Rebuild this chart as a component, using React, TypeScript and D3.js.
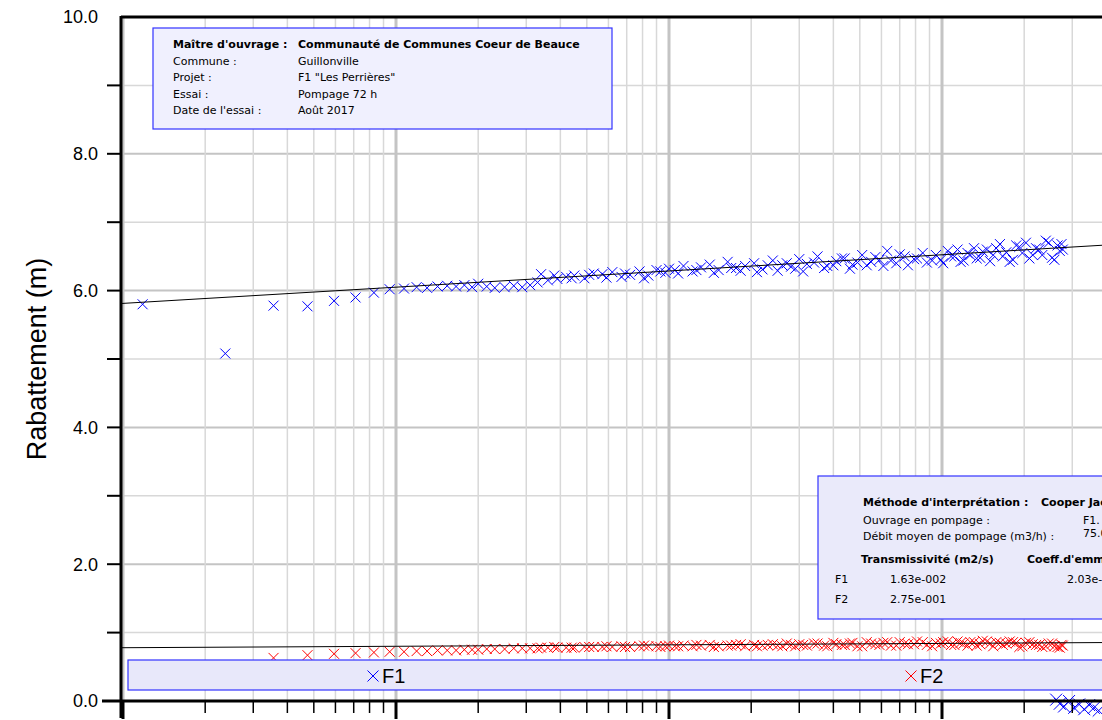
import React from "react";
import * as d3 from "d3";

// time (arbitrary log units, decade grid) shared by both wells
const times = [
  0.118, 0.237, 0.356, 0.474, 0.593, 0.711, 0.83, 0.948,
  1.07, 1.19, 1.3, 1.42, 1.54, 1.66, 1.78, 1.9, 2.0,
  2.15, 2.3, 2.5, 2.7, 2.9, 3.1, 3.3, 3.6,
  3.9, 4.2, 4.5, 4.9, 5.3, 5.7, 6.2, 6.7, 7.2, 7.8, 8.4, 9.0, 9.7, 10.0,
  10.5, 11.3, 12.2, 13.1, 14.1, 15.2, 16.4, 17.6, 19, 20.5, 22, 24, 26, 28, 30,
  32, 35, 38, 41, 44, 47, 51, 55, 59, 63, 68, 73, 79, 85, 92,
  99, 105, 111, 117, 124, 131, 138, 146, 154, 163, 172, 182, 192, 203, 215,
  227, 240, 253, 265, 277,
];

const f1Drawdown = [
  5.8, 5.08, 5.78, 5.77, 5.85, 5.9, 5.97, 6.02,
  6.03, 6.05, 6.04, 6.06, 6.07, 6.06, 6.08, 6.05, 6.1,
  6.06, 6.04, 6.05, 6.07, 6.05, 6.08, 6.12, 6.15,
  6.17, 6.2, 6.22, 6.18, 6.25, 6.24, 6.27, 6.2, 6.23, 6.28, 6.22, 6.3, 6.26, 6.32,
  6.3, 6.36, 6.28, 6.34, 6.38, 6.3, 6.42, 6.33, 6.36, 6.4, 6.31, 6.44, 6.37, 6.35, 6.46,
  6.39, 6.5, 6.36, 6.43, 6.47, 6.38, 6.52, 6.42, 6.45, 6.58, 6.4, 6.5, 6.46, 6.55, 6.44,
  6.45, 6.58, 6.5, 6.42, 6.55, 6.62, 6.48, 6.6, 6.52, 6.68, 6.56, 6.45, 6.64, 6.7, 6.52,
  6.6, 6.73, 6.48, 6.66, 6.6,
];

const f2Drawdown: (number | null)[] = [
  null, null, 0.63, 0.67, 0.69, 0.7, 0.71, 0.72,
  0.72, 0.73, 0.73, 0.74, 0.74, 0.74, 0.75, 0.75, 0.75,
  0.76, 0.76, 0.76, 0.77, 0.77, 0.77, 0.77, 0.78,
  0.78, 0.78, 0.78, 0.79, 0.79, 0.79, 0.79, 0.8, 0.79, 0.8, 0.8, 0.8, 0.8, 0.81,
  0.8, 0.81, 0.8, 0.81, 0.82, 0.8, 0.81, 0.82, 0.8, 0.82, 0.81, 0.83, 0.8, 0.82, 0.83,
  0.81, 0.84, 0.8, 0.83, 0.82, 0.85, 0.8, 0.84, 0.82, 0.86, 0.81, 0.84, 0.83, 0.86, 0.8,
  0.84, 0.87, 0.82, 0.85, 0.81, 0.86, 0.83, 0.87, 0.8, 0.85, 0.84, 0.86, 0.79, 0.85, 0.83,
  0.82, 0.8, 0.84, 0.79, 0.81,
];

// denser late-time readings (the thick cloud of the reference)
const lateTimes = [
  3.4, 3.8, 4.4, 5.1, 5.9, 6.9, 8.1, 9.3, 10.8, 12.6, 14.6, 16.9, 18.3, 21, 23, 25,
  27, 29, 31, 34, 37, 40, 43, 46, 49, 53, 57, 61, 65, 70, 75, 81, 88, 95,
  101, 108, 114, 120, 127, 134, 141, 150, 158, 167, 177, 187, 197, 209, 221,
  233, 246, 258, 270, 274,
];
const f1Late = [
  6.24, 6.22, 6.18, 6.23, 6.19, 6.25, 6.18, 6.28, 6.25, 6.3, 6.26, 6.33, 6.29, 6.27, 6.37, 6.29,
  6.4, 6.32, 6.28, 6.41, 6.33, 6.37, 6.47, 6.32, 6.41, 6.37, 6.49, 6.36, 6.44, 6.53, 6.37, 6.47, 6.41, 6.52,
  6.4, 6.5, 6.6, 6.44, 6.52, 6.47, 6.57, 6.43, 6.62, 6.5, 6.42, 6.66, 6.55, 6.47, 6.62,
  6.52, 6.7, 6.45, 6.58, 6.68,
];
const f2Late = [
  0.78, 0.79, 0.78, 0.79, 0.8, 0.79, 0.81, 0.79, 0.8, 0.82, 0.79, 0.81, 0.83, 0.8, 0.82, 0.81,
  0.84, 0.8, 0.82, 0.84, 0.81, 0.85, 0.82, 0.84, 0.8, 0.86, 0.83, 0.85, 0.81, 0.86, 0.83, 0.87, 0.82, 0.85,
  0.86, 0.82, 0.87, 0.84, 0.86, 0.81, 0.88, 0.84, 0.86, 0.82, 0.87, 0.85, 0.8, 0.86, 0.82,
  0.79, 0.84, 0.8, 0.78, 0.82,
];

// F1 late points near zero (bottom-right)
const f1RecoveryTime = [262, 270, 280, 292, 305, 318, 332, 346, 360, 375];
const f1RecoveryDrawdown = [0.02, -0.04, -0.08, 0.0, -0.1, -0.05, -0.12, -0.06, -0.1, -0.14];

// Cooper-Jacob fitted lines: s = a + b*log10(t)
const f1Fit = { a: 6.05, b: 0.237 };
const f2Fit = { a: 0.8, b: 0.021 };

const yTicks = [0, 2, 4, 6, 8, 10];

const infoRows = [
  ["Maître d'ouvrage :", "Communauté de Communes Coeur de Beauce"],
  ["Commune :", "Guillonville"],
  ["Projet :", 'F1 "Les Perrières"'],
  ["Essai :", "Pompage 72 h"],
  ["Date de l'essai :", "Août 2017"],
];

const W = 1102;
const H = 720;
const left = 121;
const top = 17;
const bottom = 701;

export default function App() {
  const x = d3.scaleLog().domain([1, 10]).range([396, 669]);
  const xMin = x.invert(left);
  const xMax = x.invert(W + 120);
  const y = d3.scaleLinear().domain([0, 10]).range([bottom, top]);

  const minorTicks: number[] = [];
  for (let e = -1; e <= 3; e++) {
    for (let k = 1; k < 10; k++) {
      const v = k * Math.pow(10, e);
      if (v >= xMin && v <= xMax) minorTicks.push(v);
    }
  }
  const font = "'DejaVu Sans', Verdana, sans-serif";

  const cross = (cx: number, cy: number, color: string, key: string, r = 5) => (
    <path
      key={key}
      d={`M${cx - r},${cy - r}L${cx + r},${cy + r}M${cx - r},${cy + r}L${cx + r},${cy - r}`}
      stroke={color}
      strokeWidth={1}
      fill="none"
    />
  );

  const fitLine = (f: { a: number; b: number }) =>
    `M${left},${y(f.a + f.b * Math.log10(xMin))}L${W},${y(f.a + f.b * Math.log10(x.invert(W)))}`;

  return (
    <svg
      width={W}
      height={H}
      style={{ position: "absolute", left: 0, top: 0, background: "white" }}
    >
      {/* grid */}
      {d3.range(1, 10).map((v) => (
        <line
          key={"hy" + v}
          x1={left}
          x2={W}
          y1={y(v)}
          y2={y(v)}
          stroke={v % 2 === 0 ? "#c4c4c4" : "#d8d8d8"}
          strokeWidth={v % 2 === 0 ? 2 : 1.5}
        />
      ))}
      {minorTicks.map((v) => {
        const major = Math.abs(Math.log10(v) - Math.round(Math.log10(v))) < 1e-9;
        return (
          <line
            key={"gx" + v}
            x1={x(v)}
            x2={x(v)}
            y1={top}
            y2={bottom}
            stroke={major ? "#c4c4c4" : "#d8d8d8"}
            strokeWidth={major ? 3 : 1.5}
          />
        );
      })}

      {/* data */}
      {times.map((t, i) => {
        const v = f2Drawdown[i];
        return v == null ? null : cross(x(t), y(v), "#ff0000", "r" + i);
      })}
      {lateTimes.map((t, i) => cross(x(t), y(f2Late[i]), "#ff0000", "rl" + i))}
      {times.map((t, i) => cross(x(t), y(f1Drawdown[i]), "#0000ff", "b" + i))}
      {lateTimes.map((t, i) => cross(x(t), y(f1Late[i]), "#0000ff", "bl" + i))}
      {f1RecoveryTime.map((t, i) =>
        cross(x(t), y(f1RecoveryDrawdown[i]), "#0000ff", "rc" + i, 6)
      )}
      <path d={fitLine(f1Fit)} stroke="#000" strokeWidth={1} />
      <path d={fitLine(f2Fit)} stroke="#000" strokeWidth={1} />

      {/* axes */}
      <line x1={left} x2={left} y1={top - 1} y2={718} stroke="#000" strokeWidth={3} />
      <line x1={left} x2={W} y1={top} y2={top} stroke="#000" strokeWidth={3} />
      <line x1={102} x2={W} y1={bottom} y2={bottom} stroke="#000" strokeWidth={3} />
      {d3.range(1, 10).map((v) => (
        <line key={"ty" + v} x1={left - 14} x2={left} y1={y(v)} y2={y(v)} stroke="#000" strokeWidth={2} />
      ))}
      {minorTicks.map((v) => {
        const major = Math.abs(Math.log10(v) - Math.round(Math.log10(v))) < 1e-9;
        return (
          <line
            key={"tx" + v}
            x1={x(v)}
            x2={x(v)}
            y1={bottom}
            y2={major ? 719 : 713}
            stroke="#000"
            strokeWidth={major ? 3 : 1.5}
          />
        );
      })}
      {yTicks.map((v) => (
        <text
          key={"ly" + v}
          x={98}
          y={y(v)}
          dy="0.36em"
          textAnchor="end"
          fontFamily="'Liberation Sans', Arial, sans-serif"
          fontSize={18}
        >
          {v.toFixed(1)}
        </text>
      ))}
      <text
        transform="translate(46,359) rotate(-90)"
        textAnchor="middle"
        fontFamily="'Liberation Sans', Arial, sans-serif"
        fontSize={27}
      >
        Rabattement (m)
      </text>

      {/* info box */}
      <rect x={153} y={28} width={459} height={101} fill="#f0f0fe" stroke="#3333ff" strokeWidth={1.2} />
      {infoRows.map((r, i) => (
        <g key={"ir" + i} fontFamily={font} fontSize={11} fontWeight={i === 0 ? "bold" : "normal"}>
          <text x={173} y={48 + i * 16.6}>{r[0]}</text>
          <text x={298} y={48 + i * 16.6}>{r[1]}</text>
        </g>
      ))}

      {/* interpretation box (cut by the right edge, as in the original) */}
      <rect x={818} y={476} width={300} height={143} fill="#eaeafa" stroke="#3333ff" strokeWidth={1.2} />
      <g fontFamily={font} fontSize={11}>
        <text x={863} y={506} fontWeight="bold">Méthode d'interprétation :</text>
        <text x={1041} y={506} fontWeight="bold">Cooper Jacob</text>
        <text x={863} y={524}>Ouvrage en pompage :</text>
        <text x={1083} y={524}>F1.</text>
        <text x={863} y={540}>Débit moyen de pompage (m3/h) :</text>
        <text x={1083} y={537}>75.0</text>
        <text x={861} y={563} fontWeight="bold">Transmissivité (m2/s)</text>
        <text x={1027} y={563} fontWeight="bold">Coeff.d'emmagasinement</text>
        <text x={835} y={583}>F1</text>
        <text x={890} y={583}>1.63e-002</text>
        <text x={1067} y={583}>2.03e-003</text>
        <text x={835} y={603}>F2</text>
        <text x={890} y={603}>2.75e-001</text>
      </g>

      {/* legend */}
      <rect x={128} y={660} width={1000} height={30} fill="#e8e8fa" stroke="#3333ff" strokeWidth={1.2} />
      {cross(373, 676, "#0000ff", "lg1", 5.5)}
      <text x={382} y={683} fontFamily="'Liberation Sans', Arial, sans-serif" fontSize={20}>F1</text>
      {cross(911, 676, "#ff0000", "lg2", 5.5)}
      <text x={920} y={683} fontFamily="'Liberation Sans', Arial, sans-serif" fontSize={20}>F2</text>
    </svg>
  );
}
